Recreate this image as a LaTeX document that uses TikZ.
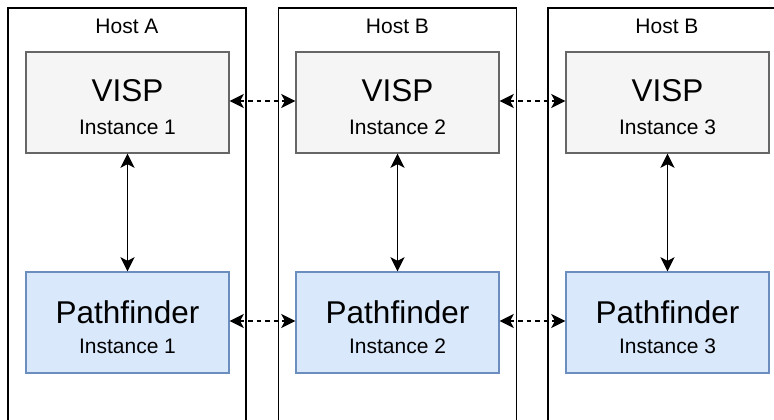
\documentclass[tikz,border=0pt]{standalone}
\usepackage{fontspec}
\setmainfont{Liberation Sans}
\usetikzlibrary{arrows.meta}
\definecolor{vispfill}{HTML}{F5F5F5}
\definecolor{vispdraw}{HTML}{666666}
\definecolor{pffill}{HTML}{DAE8FC}
\definecolor{pfdraw}{HTML}{6C8EBF}
\tikzset{
  hostbox/.style={draw=black, line width=1.7pt, fill=none, minimum width=238pt, minimum height=440pt, inner sep=0pt},
  vispbox/.style={draw=vispdraw, fill=vispfill, line width=1.4pt, minimum width=203pt, minimum height=101pt, inner sep=0pt},
  pfbox/.style={draw=pfdraw, fill=pffill, line width=1.4pt, minimum width=203pt, minimum height=101pt, inner sep=0pt},
  bigtxt/.style={anchor=base, inner sep=0pt, font=\fontsize{31.5}{31.5}\selectfont},
  smalltxt/.style={anchor=base, inner sep=0pt, font=\fontsize{21}{21}\selectfont},
  solidlink/.style={line width=1.9pt, {Stealth[length=14pt,width=14pt,inset=3.5pt]}-{Stealth[length=14pt,width=14pt,inset=3.5pt]}},
  dashlink/.style={line width=1.9pt, dash pattern=on 4.5pt off 4pt, {Stealth[length=14pt,width=14pt,inset=3.5pt]}-{Stealth[length=14pt,width=14pt,inset=3.5pt]}},
}
\begin{document}
\begin{tikzpicture}[x=1pt,y=-1pt]
\useasboundingbox (0,0) rectangle (774,420);
\clip (0,0) rectangle (774,420);
\fill[white] (0,0) rectangle (774,420);
% hosts
\node[hostbox] (h1) at (127,228) {};
\node[hostbox] (h2) at (397.5,228) {};
\node[hostbox] (h3) at (667,228) {};
\node[smalltxt] (h1t) at (127,34) {Host A};
\node[smalltxt] (h2t) at (397.5,34) {Host B};
\node[smalltxt] (h3t) at (667,34) {Host B};
% VISP
\node[vispbox] (v1) at (127.5,102.5) {};
\node[vispbox] (v2) at (397.5,102.5) {};
\node[vispbox] (v3) at (667.5,102.5) {};
\node[bigtxt] (v1a) at (127.5,102) {VISP};
\node[bigtxt] (v2a) at (397.5,102) {VISP};
\node[bigtxt] (v3a) at (667.5,102) {VISP};
\node[smalltxt] (v1b) at (127.5,134) {Instance 1};
\node[smalltxt] (v2b) at (397.5,134) {Instance 2};
\node[smalltxt] (v3b) at (667.5,134) {Instance 3};
% Pathfinder
\node[pfbox] (p1) at (127.5,322.5) {};
\node[pfbox] (p2) at (397.5,322.5) {};
\node[pfbox] (p3) at (667.5,322.5) {};
\node[bigtxt] (p1a) at (127.5,323) {Pathfinder};
\node[bigtxt] (p2a) at (397.5,323) {Pathfinder};
\node[bigtxt] (p3a) at (667.5,323) {Pathfinder};
\node[smalltxt] (p1b) at (127.5,353) {Instance 1};
\node[smalltxt] (p2b) at (397.5,353) {Instance 2};
\node[smalltxt] (p3b) at (667.5,353) {Instance 3};
% connectors
\draw[solidlink] (v1.south) -- (p1.north);
\draw[solidlink] (v2.south) -- (p2.north);
\draw[solidlink] (v3.south) -- (p3.north);
\draw[dashlink] ([yshift=1.5pt]v1.east) -- ([yshift=1.5pt]v2.west);
\draw[dashlink] ([yshift=1.5pt]v2.east) -- ([yshift=1.5pt]v3.west);
\draw[dashlink] ([yshift=1.5pt]p1.east) -- ([yshift=1.5pt]p2.west);
\draw[dashlink] ([yshift=1.5pt]p2.east) -- ([yshift=1.5pt]p3.west);
\end{tikzpicture}
\end{document}
